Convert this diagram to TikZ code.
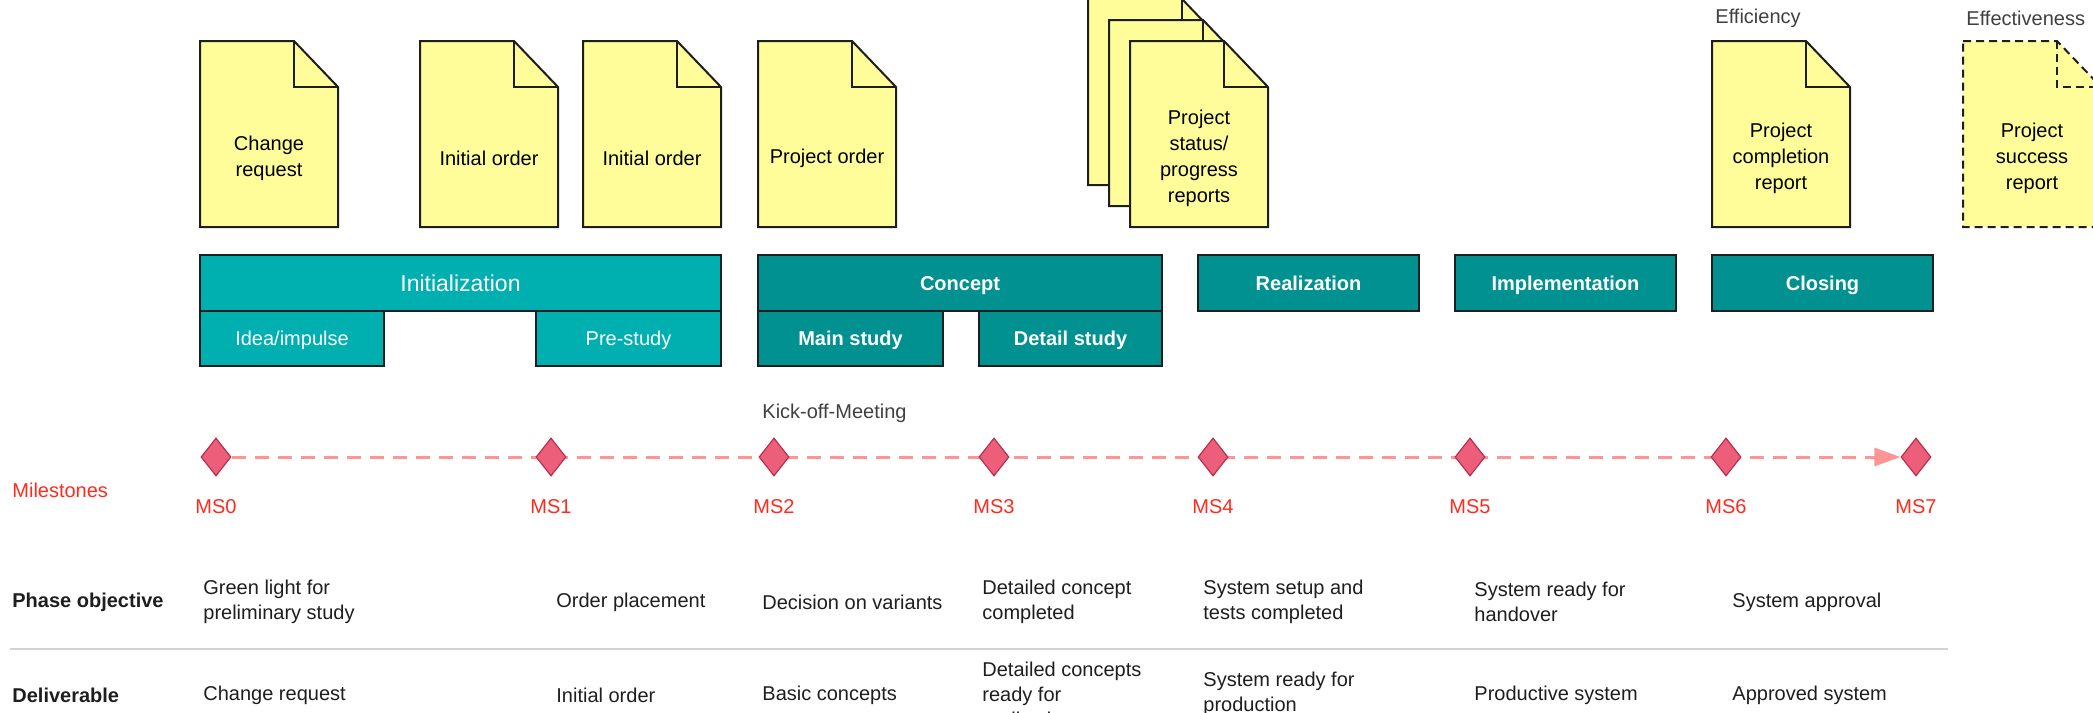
\documentclass[tikz,border=0pt]{standalone}
\usepackage{fontspec}
\setmainfont{Liberation Sans}
\usetikzlibrary{arrows.meta, positioning, calc, backgrounds, shapes.geometric}
\definecolor{pmInk}{HTML}{1E1E1E}
\definecolor{pmTeal}{HTML}{00B0B0}
\definecolor{pmDeep}{HTML}{009190}
\definecolor{pmPaper}{HTML}{FFFD99}
\definecolor{pmRed}{HTML}{FF2A1E}
\definecolor{pmRose}{HTML}{EC5E7A}
\definecolor{pmWine}{HTML}{B8304C}
\definecolor{pmTrack}{HTML}{FF9494}
\definecolor{pmRule}{HTML}{D2D2D2}
\tikzset{
  sheet/.style={draw=pmInk, line width=1pt, fill=pmPaper},
  sheettext/.style={font=\fontsize{10}{13}\selectfont, text=black, align=center, inner sep=0pt},
  phase/.style={draw=pmInk, line width=1pt, fill=pmDeep, text=white,
    font=\fontsize{10}{12}\bfseries, inner sep=0pt, minimum height=28pt,
    text height=7.2pt, text depth=0pt},
  subphase/.style={phase, minimum height=27.5pt},
  prephase/.style={phase, fill=pmTeal, font=\fontsize{10}{12}\selectfont},
  presub/.style={prephase, minimum height=27.5pt},
  mstone/.style={diamond, draw=pmWine, line width=0.6pt, fill=pmRose,
    minimum width=15pt, minimum height=19pt, inner sep=0pt},
  mslbl/.style={text=pmRed, inner sep=1pt},
  track/.style={draw=pmTrack, line width=1.5pt, dash pattern=on 7pt off 4.5pt,
    -{Triangle[length=13pt, width=9pt]}},
  rowhead/.style={font=\fontsize{10}{12.5}\bfseries, anchor=west, inner sep=0pt},
  cell/.style={font=\fontsize{10}{12.5}\selectfont, anchor=west, align=left, inner sep=0pt},
  note/.style={anchor=west, inner sep=0pt, text=pmInk!85},
  sep/.style={draw=pmRule, line width=1pt},
}
% a sheet of paper with a folded corner; #3 is its top left corner
\newcommand{\paperdoc}[4][]{%
  \path[sheet,#1] (#3) -- ++(94,0) -- ++(44,46) -- ++(0,140) -- ++(-138,0) -- cycle;
  \draw[sheet,#1,fill=none] ($(#3)+(94,0)$) |- ++(44,46);
  \node[sheettext] (#2) at ($(#3)+(69,117)$) {#4};
}

\begin{document}
\begin{tikzpicture}[x=0.5pt, y=-0.5pt, font=\fontsize{10}{12.5}\selectfont, text=pmInk]
  \useasboundingbox (0,0) rectangle (2093,712);
  \clip (0,0) rectangle (2093,712);

  % documents
  \paperdoc{chg}{200,41}{Change\\request}
  \paperdoc{ord1}{420,41}{Initial order}
  \paperdoc{ord2}{583,41}{Initial order}
  \paperdoc{porder}{758,41}{Project order}
  \paperdoc{rep3}{1088,-1}{}
  \paperdoc{rep2}{1109,20}{}
  \paperdoc{rep1}{1130,41}{Project\\status/\\progress\\reports}
  \paperdoc{compl}{1712,41}{Project\\completion\\report}
  \paperdoc[dash pattern=on 4pt off 2.5pt]{succ}{1963,41}{Project\\success\\report}
  \node[note] (effi) at (1715,18) {Efficiency};
  \node[note] (effe) at (1966,18) {Effectiveness};

  % phases
  \node[prephase, minimum width=260.5pt, font=\fontsize{11.5}{13}\selectfont,
    text height=8.3pt] (init) at (460.5,283) {Initialization};
  \node[presub, minimum width=92pt] (idea) at (292,338.5) {Idea/impulse};
  \node[presub, minimum width=92.5pt] (pre) at (628.5,338.5) {Pre-study};
  \node[phase, minimum width=202pt] (concept) at (960,283) {Concept};
  \node[subphase, minimum width=92.5pt] (mainst) at (850.5,338.5) {Main study};
  \node[subphase, minimum width=91.5pt] (detail) at (1070.5,338.5) {Detail study};
  \node[phase, minimum width=110.5pt] (real) at (1308.5,283) {Realization};
  \node[phase, minimum width=110.5pt] (impl) at (1565.5,283) {Implementation};
  \node[phase, minimum width=110.5pt] (close) at (1822.5,283) {Closing};

  % milestones
  \node[note] (kick) at (762,413) {Kick-off-Meeting};
  \node[mslbl, anchor=west, inner sep=0pt] (mslist) at (12,490) {Milestones};
  \foreach \mx [count=\i from 0] in {216,551,774,994,1213,1470,1726,1916} {
    \node[mstone] (ms\i) at (\mx,457) {};
    \node[mslbl] (msl\i) at (\mx,507) {MS\i};
  }
  \begin{scope}[on background layer]
    \draw[track] (ms0) -- (ms7);
  \end{scope}

  % objectives and deliverables
  \node[rowhead] (objh) at (12,602) {Phase objective};
  \node[cell] (obj0) at (203,602) {Green light for\\preliminary study};
  \node[cell] (obj1) at (556,602) {Order placement};
  \node[cell] (obj2) at (762,602) {Decision on variants};
  \node[cell] (obj3) at (982,602) {Detailed concept\\completed};
  \node[cell] (obj4) at (1203,602) {System setup and\\tests completed};
  \node[cell] (obj5) at (1474,602) {System ready for\\handover};
  \node[cell] (obj6) at (1732,602) {System approval};

  \coordinate (sepl) at (10,649);
  \coordinate (sepr) at (1948,649);
  \draw[sep] (sepl) -- (sepr);

  \node[rowhead] (delh) at (12,695) {Deliverable};
  \node[cell] (del0) at (203,695) {Change request};
  \node[cell] (del1) at (556,695) {Initial order};
  \node[cell] (del2) at (762,695) {Basic concepts};
  \node[cell] (del3) at (982,694) {Detailed concepts\\ready for\\realization};
  \node[cell] (del4) at (1203,694) {System ready for\\production};
  \node[cell] (del5) at (1474,695) {Productive system};
  \node[cell] (del6) at (1732,695) {Approved system};
\end{tikzpicture}
\end{document}
